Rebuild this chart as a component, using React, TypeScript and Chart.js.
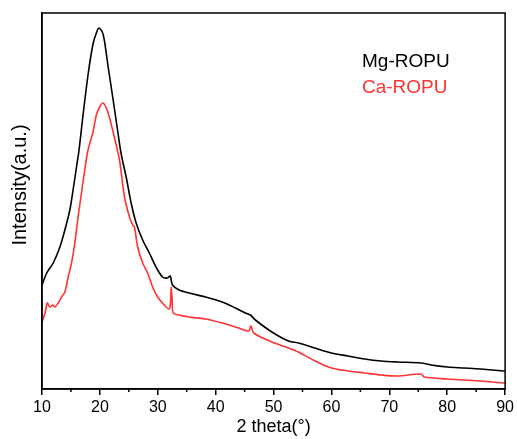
import React, { useEffect, useRef } from "react";
import { Chart, registerables } from "chart.js";

Chart.register(...registerables);

const seriesNames = ["Mg-ROPU", "Ca-ROPU"];
const seriesColors = ["#000000", "#ff3333"];
const yTitle = "Intensity(a.u.)";
const xTitle = "2 theta(°)";

const mgTheta = [10.0, 10.81, 11.94, 13.09, 13.95, 14.81, 15.37, 15.96, 16.4, 17.09, 17.95, 18.81, 19.39, 19.84, 20.42, 20.82, 21.38, 22.24, 23.1, 23.68, 24.54, 25.4, 26.26, 27.39, 28.54, 29.69, 30.82, 31.68, 32.15, 32.54, 33.69, 35.41, 38.27, 41.12, 43.42, 45.14, 46.0, 46.86, 49.71, 52.58, 54.29, 57.16, 60.01, 62.88, 65.74, 68.59, 71.46, 75.46, 77.18, 80.04, 82.91, 85.76, 89.78, 90.0];
const mgIntensity = [104, 116, 126, 142, 159, 179, 199, 222, 239, 274, 314, 345, 356, 361, 357, 347, 324, 291, 257, 235, 212, 186, 166, 149, 136, 122, 112, 111, 113, 104, 99, 96, 92, 87, 81, 76, 74, 69, 57, 48, 46, 41, 36, 33, 30, 28, 27, 26, 24, 22, 21, 20, 18, 18];

const caTheta = [10.0, 10.52, 10.91, 11.37, 11.84, 12.23, 12.8, 13.38, 13.95, 14.52, 15.1, 15.67, 16.23, 16.82, 17.38, 17.95, 18.81, 19.39, 19.96, 20.52, 21.11, 21.67, 22.53, 23.39, 24.25, 25.11, 25.67, 25.97, 26.53, 27.39, 28.25, 29.11, 29.97, 31.12, 31.97, 32.23, 32.32, 32.49, 32.66, 33.69, 35.41, 38.27, 41.12, 43.99, 45.71, 46.1, 46.57, 49.71, 52.58, 54.29, 57.16, 60.01, 62.88, 65.74, 68.59, 71.46, 75.46, 76.04, 80.04, 82.91, 85.76, 89.78, 90.0];
const caIntensity = [67, 76, 86, 82, 84, 82, 86, 92, 97, 112, 126, 146, 172, 196, 219, 239, 257, 274, 282, 286, 281, 271, 251, 229, 192, 172, 164, 162, 142, 126, 116, 102, 92, 84, 80, 89, 102, 89, 76, 74, 72, 70, 66, 61, 58, 63, 56, 47, 41, 37, 28, 21, 18, 16, 14, 13, 15, 12, 10, 9, 8, 6, 6];

const xTicks = [10, 20, 30, 40, 50, 60, 70, 80, 90];
const xMinorTicks = [15, 25, 35, 45, 55, 65, 75, 85];

const FONT = "'Liberation Sans', Arial, sans-serif";

export default function App() {
  const ref = useRef<HTMLCanvasElement | null>(null);

  useEffect(() => {
    const canvas = ref.current;
    if (!canvas) return;

    const framePlugin = {
      id: "frameAndLegend",
      afterDraw(chart: any) {
        const { ctx, chartArea } = chart;
        const xs = chart.scales.x;
        ctx.save();
        ctx.strokeStyle = "#000";
        ctx.lineWidth = 1.5;
        ctx.strokeRect(chartArea.left, chartArea.top, chartArea.right - chartArea.left, chartArea.bottom - chartArea.top);
        ctx.beginPath();
        for (const v of xMinorTicks) {
          const px = xs.getPixelForValue(v);
          ctx.moveTo(px, chartArea.bottom);
          ctx.lineTo(px, chartArea.bottom + 3);
        }
        ctx.stroke();
        ctx.font = `19px ${FONT}`;
        ctx.textAlign = "left";
        ctx.textBaseline = "alphabetic";
        chart.data.datasets.forEach((ds: any, i: number) => {
          ctx.fillStyle = ds.borderColor;
          ctx.fillText(ds.label, chartArea.left + 320, chartArea.top + 54 + i * 26);
        });
        // y-axis title
        ctx.save();
        ctx.translate(20, chartArea.top + 172);
        ctx.rotate(-Math.PI / 2);
        ctx.font = `20px ${FONT}`;
        ctx.fillStyle = "#000";
        ctx.textAlign = "center";
        ctx.textBaseline = "middle";
        ctx.fillText(yTitle, 0, 0);
        ctx.restore();
        ctx.restore();
      },
    };

    const chart = new Chart(canvas, {
      type: "line",
      data: {
        datasets: [
          {
            label: seriesNames[0],
            data: mgTheta.map((x, i) => ({ x, y: mgIntensity[i] })),
            borderColor: seriesColors[0],
            borderWidth: 1.6,
            pointRadius: 0,
            tension: 0.3,
            fill: false,
          },
          {
            label: seriesNames[1],
            data: caTheta.map((x, i) => ({ x, y: caIntensity[i] })),
            borderColor: seriesColors[1],
            borderWidth: 1.6,
            pointRadius: 0,
            tension: 0.3,
            fill: false,
          },
        ],
      },
      options: {
        responsive: false,
        animation: false,
        devicePixelRatio: 1,
        layout: { padding: { left: 0, right: 9, top: 13, bottom: 0 } },
        plugins: {
          legend: { display: false },
          tooltip: { enabled: false },
        },
        scales: {
          x: {
            type: "linear",
            min: 10,
            max: 90,
            afterBuildTicks: (scale: any) => {
              scale.ticks = xTicks.map((v) => ({ value: v }));
            },
            ticks: {
              color: "#000",
              font: { size: 16, family: FONT },
              padding: 3,
              maxRotation: 0,
              callback: (v: any) => String(v),
            },
            grid: {
              display: true,
              drawOnChartArea: false,
              drawTicks: true,
              tickLength: 6,
              color: "#000",
              lineWidth: 1.5,
            },
            border: { display: true, color: "#000", width: 1.5 },
            title: {
              display: true,
              text: xTitle,
              color: "#000",
              font: { size: 18, family: FONT },
              padding: { top: 0, bottom: 1 },
            },
            afterFit: (scale: any) => {
              scale.height = 50;
            },
          },
          y: {
            min: 0,
            max: 376,
            ticks: { display: false },
            grid: { display: false },
            border: { display: true, color: "#000", width: 1.5 },
            title: { display: false },
            afterFit: (scale: any) => {
              scale.width = 42;
            },
          },
        },
      },
      plugins: [framePlugin],
    });

    return () => chart.destroy();
  }, []);

  return (
    <canvas
      ref={ref}
      width={517}
      height={439}
      style={{ position: "absolute", left: 0, top: 0, display: "block", background: "#fff" }}
    />
  );
}
